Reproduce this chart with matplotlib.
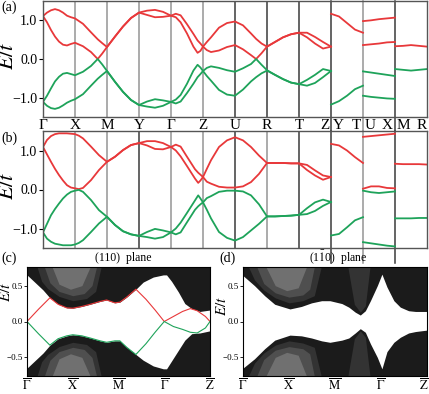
import matplotlib
matplotlib.use("Agg")
import matplotlib.pyplot as plt
from matplotlib.transforms import blended_transform_factory

plt.rcParams["font.family"] = ["Liberation Serif", "DejaVu Serif"]
plt.rcParams["mathtext.fontset"] = "stix"
plt.rcParams["axes.unicode_minus"] = True

RED = "#e8383a"
GREEN = "#1ea35a"
DARK = "#1b1b1b"

# ---------------- bulk bands, panels (a) and (b) ----------------
# path: G-X-M-Y-G-Z-U-R-T-Z | Y-T | U-X | M-R, one unit per segment
tick_pos = [0, 1, 2, 3, 4, 5, 6, 7, 8]
tick_lab = ["Γ", "X", "M", "Y", "Γ", "Z", "U", "R", "T"]
end_lab = "R"
break_pos = [9, 10, 11]
break_left = ["Z", "T", "X"]
break_right = ["Y", "U", "M"]
seg_k = [0, 0.25, 0.5, 0.75, 1]

# panel (a)
k_a = [0, 0.125, 0.25, 0.375, 0.5, 0.625, 0.75, 0.875, 1,
       1.25, 1.5, 1.71, 1.85, 2,
       2.25, 2.5, 2.75, 3,
       3.25, 3.5, 3.75, 4,
       4.15, 4.3, 4.5, 4.7, 4.83, 4.92, 5,
       5.12, 5.25, 5.5, 5.75, 6,
       6.25, 6.5, 6.66, 6.83, 7,
       7.25, 7.5, 7.75, 8,
       8.25, 8.5, 8.75, 9]
a_c2 = [1.11, 1.20, 1.26, 1.29, 1.26, 1.20, 1.12, 1.08, 1.05,
        0.91, 0.69, 0.51, 0.41, 0.31,
        0.58, 0.84, 1.06, 1.20,
        1.25, 1.27, 1.22, 1.12,
        1.17, 1.13, 0.90, 0.65, 0.48, 0.40, 0.32,
        0.44, 0.56, 0.81, 0.93, 0.97,
        0.87, 0.66, 0.52, 0.40, 0.32,
        0.44, 0.56, 0.64, 0.68,
        0.68, 0.57, 0.44, 0.32]
a_c1 = [1.11, 0.95, 0.75, 0.58, 0.45, 0.37, 0.35, 0.39, 0.42,
        0.33, 0.18, 0.00, 0.14, 0.31,
        0.58, 0.84, 1.06, 1.20,
        1.14, 1.08, 1.09, 1.12,
        1.08, 0.95, 0.66, 0.32, 0.16, 0.21, 0.32,
        0.23, 0.18, 0.22, 0.31, 0.36,
        0.25, 0.10, 0.00, 0.15, 0.32,
        0.44, 0.56, 0.64, 0.68,
        0.56, 0.40, 0.27, 0.32]
a_v1 = [-1.11, -0.95, -0.76, -0.58, -0.46, -0.38, -0.36, -0.39, -0.42,
        -0.33, -0.18, 0.00, -0.14, -0.31,
        -0.59, -0.85, -1.06, -1.19,
        -1.10, -1.04, -1.07, -1.11,
        -1.05, -0.93, -0.64, -0.30, -0.15, -0.22, -0.31,
        -0.23, -0.19, -0.23, -0.29, -0.33,
        -0.24, -0.13, 0.00, -0.15, -0.29,
        -0.41, -0.52, -0.61, -0.65,
        -0.54, -0.41, -0.26, -0.31]
a_v2 = [-1.11, -1.21, -1.27, -1.29, -1.26, -1.20, -1.13, -1.08, -1.04,
        -0.91, -0.69, -0.51, -0.41, -0.31,
        -0.59, -0.85, -1.06, -1.19,
        -1.23, -1.26, -1.21, -1.11,
        -1.15, -1.10, -0.88, -0.64, -0.47, -0.39, -0.31,
        -0.44, -0.56, -0.80, -0.92, -0.95,
        -0.79, -0.58, -0.47, -0.37, -0.30,
        -0.41, -0.52, -0.61, -0.65,
        -0.69, -0.62, -0.47, -0.31]
a_yt_c = [1.17, 1.10, 0.93, 0.76, 0.68]
a_yt_v = [-1.18, -1.09, -0.95, -0.78, -0.69]
a_ux_c2 = [0.98, 1.00, 1.03, 1.05, 1.07]
a_ux_c1 = [0.36, 0.38, 0.40, 0.43, 0.44]
a_ux_v1 = [-0.32, -0.35, -0.38, -0.41, -0.44]
a_ux_v2 = [-0.95, -0.98, -1.00, -1.02, -1.03]
a_mr_c = [0.33, 0.34, 0.36, 0.34, 0.32]
a_mr_v = [-0.26, -0.28, -0.30, -0.28, -0.26]

# panel (b)
k_b = [0, 0.125, 0.25, 0.375, 0.5, 0.625, 0.75, 0.875, 1,
       1.12, 1.25, 1.5, 1.75, 2,
       2.25, 2.5, 2.75, 3,
       3.25, 3.5, 3.75, 4,
       4.15, 4.3, 4.5, 4.75, 4.85, 4.92, 5,
       5.12, 5.25, 5.5, 5.75, 6,
       6.25, 6.5, 6.75, 7,
       7.25, 7.5, 7.75, 8,
       8.25, 8.5, 8.75, 9]
b_c2 = [1.09, 1.27, 1.37, 1.42, 1.44, 1.44, 1.44, 1.43, 1.42,
        1.38, 1.31, 1.10, 0.88, 0.71,
        0.84, 1.01, 1.14, 1.19,
        1.24, 1.24, 1.19, 1.09,
        1.15, 1.10, 0.84, 0.52, 0.43, 0.38, 0.32,
        0.53, 0.75, 1.09, 1.26, 1.34,
        1.26, 1.09, 0.87, 0.68,
        0.68, 0.68, 0.67, 0.67,
        0.63, 0.49, 0.36, 0.32]
b_c1 = [1.09, 0.90, 0.71, 0.53, 0.37, 0.23, 0.11, 0.05, 0.03,
        0.01, 0.04, 0.24, 0.50, 0.71,
        0.84, 1.01, 1.14, 1.19,
        1.13, 1.04, 1.03, 1.09,
        1.00, 0.85, 0.60, 0.28, 0.17, 0.23, 0.32,
        0.20, 0.15, 0.07, 0.05, 0.05,
        0.08, 0.19, 0.40, 0.68,
        0.68, 0.68, 0.67, 0.67,
        0.50, 0.36, 0.25, 0.32]
b_v1 = [-1.10, -0.88, -0.66, -0.50, -0.36, -0.23, -0.13, -0.06, -0.03,
        -0.01, -0.06, -0.27, -0.53, -0.70,
        -0.91, -1.07, -1.15, -1.19,
        -1.09, -1.01, -1.05, -1.10,
        -1.00, -0.85, -0.60, -0.28, -0.15, -0.23, -0.33,
        -0.22, -0.17, -0.06, -0.03, -0.03,
        -0.05, -0.15, -0.38, -0.69,
        -0.69, -0.68, -0.67, -0.65,
        -0.48, -0.33, -0.26, -0.32]
b_v2 = [-1.10, -1.26, -1.34, -1.39, -1.41, -1.43, -1.43, -1.43, -1.41,
        -1.37, -1.30, -1.09, -0.87, -0.70,
        -0.91, -1.07, -1.15, -1.19,
        -1.22, -1.26, -1.22, -1.10,
        -1.15, -1.10, -0.84, -0.52, -0.43, -0.38, -0.33,
        -0.52, -0.74, -1.09, -1.24, -1.31,
        -1.22, -1.05, -0.88, -0.69,
        -0.69, -0.68, -0.67, -0.65,
        -0.63, -0.55, -0.42, -0.32]
b_yt_c = [1.17, 1.13, 1.00, 0.83, 0.68]
b_yt_v = [-1.18, -1.14, -0.97, -0.79, -0.71]
b_ux_c2 = [1.35, 1.37, 1.39, 1.41, 1.43]
b_ux_c1 = [0.02, 0.08, 0.08, 0.04, 0.03]
b_ux_v1 = [-0.03, -0.07, -0.09, -0.07, -0.05]
b_ux_v2 = [-1.35, -1.38, -1.41, -1.44, -1.46]
b_mr_c = [0.66, 0.65, 0.65, 0.65, 0.64]
b_mr_v = [-0.74, -0.74, -0.74, -0.73, -0.73]

# vertical separator colours (a) and (b), at k = 1..11
LIGHT, DK = "#959595", "#3a3a3a"
a_vcol = [LIGHT, LIGHT, LIGHT, LIGHT, LIGHT, DK, DK, DK, DK, LIGHT, DK]
b_vcol = [LIGHT, LIGHT, DK, LIGHT, LIGHT, DK, LIGHT, DK, DK, LIGHT, DK]

# ---------------- surface spectra, panels (c) and (d) ----------------
c_ticks = [0, 1, 2, 3, 4]
d_ticks = [0, 1, 2, 3, 3.94]
surf_labels = [r"$\overline{\Gamma}$", r"$\overline{\mathrm{X}}$",
               r"$\overline{\mathrm{M}}$", r"$\overline{\Gamma}$",
               r"$\overline{\mathrm{Z}}$"]

k_c = [0, 0.2, 0.35, 0.5, 0.68, 0.87, 1.0, 1.2, 1.38, 1.6, 1.74, 1.92,
       2.03, 2.18, 2.38, 2.54, 2.76, 2.98, 3.05, 3.16, 3.31, 3.45, 3.6,
       3.78, 4.0]
c_top = [0.65, 0.53, 0.44, 0.33, 0.24, 0.19, 0.185, 0.21, 0.24, 0.28, 0.30,
         0.26, 0.27, 0.34, 0.45, 0.55, 0.62, 0.65, 0.65, 0.56, 0.41, 0.25,
         0.18, 0.14, 0.16]
c_bot = [-0.65, -0.53, -0.44, -0.33, -0.24, -0.20, -0.185, -0.20, -0.23,
         -0.27, -0.29, -0.27, -0.27, -0.36, -0.46, -0.54, -0.62, -0.66,
         -0.66, -0.55, -0.40, -0.26, -0.17, -0.16, -0.13]
k_cs = [0, 0.25, 0.5, 0.68, 0.87, 1.0, 1.2, 1.38, 1.6, 1.74, 1.92, 2.03,
        2.18, 2.38, 2.6, 2.8, 3.0, 3.2, 3.4, 3.57, 3.72, 3.9, 4.0]
c_red = [0.0, 0.17, 0.33, 0.24, 0.19, 0.185, 0.21, 0.24, 0.28, 0.30, 0.26,
         0.27, 0.34, 0.45, 0.31, 0.16, 0.0, 0.07, 0.14, 0.18, 0.15, 0.07, 0.0]
c_green = [0.0, -0.17, -0.33, -0.24, -0.20, -0.185, -0.20, -0.23, -0.27,
           -0.29, -0.27, -0.27, -0.36, -0.46, -0.31, -0.15, 0.0, -0.07,
           -0.11, -0.15, -0.16, -0.09, 0.0]

k_d = [0, 0.25, 0.47, 0.69, 1.02, 1.27, 1.49, 1.71, 1.89, 2.15, 2.30, 2.44,
       2.55, 2.66, 2.77, 2.92, 3.02, 3.13, 3.28, 3.42, 3.6, 3.75, 4.0]
d_top = [0.64, 0.50, 0.36, 0.24, 0.175, 0.21, 0.26, 0.29, 0.29, 0.25, 0.20,
         0.13, 0.09, 0.15, 0.29, 0.50, 0.66, 0.48, 0.29, 0.20, 0.15, 0.14,
         0.14]
d_bot = [-0.65, -0.52, -0.38, -0.26, -0.19, -0.20, -0.23, -0.27, -0.29,
         -0.26, -0.23, -0.16, -0.10, -0.15, -0.31, -0.50, -0.66, -0.42,
         -0.29, -0.22, -0.16, -0.14, -0.12]

# lighter grey zones inside the continuum near X-bar: (x, edge of zone)
# three nested levels, upper continuum (lower boundary) / lower (upper boundary)
c_g1_x = [0.22, 0.32, 0.45, 0.7, 1.0, 1.3, 1.5, 1.62]
c_g1_up = [0.76, 0.56, 0.46, 0.35, 0.29, 0.32, 0.42, 0.76]
c_g1_dn = [-0.76, -0.56, -0.46, -0.35, -0.29, -0.32, -0.42, -0.76]
c_g2_x = [0.38, 0.5, 0.7, 1.0, 1.25, 1.42, 1.52]
c_g2_up = [0.76, 0.54, 0.42, 0.36, 0.39, 0.5, 0.76]
c_g2_dn = [-0.76, -0.54, -0.42, -0.36, -0.39, -0.5, -0.76]
c_g3_x = [0.55, 0.7, 0.95, 1.2, 1.38]
c_g3_up = [0.76, 0.52, 0.45, 0.5, 0.76]
c_g3_dn = [-0.76, -0.52, -0.45, -0.5, -0.76]

d_g1_x = [0.12, 0.25, 0.45, 0.7, 1.0, 1.3, 1.55, 1.7]
d_g1_up = [0.76, 0.58, 0.44, 0.33, 0.26, 0.29, 0.36, 0.76]
d_g1_dn = [-0.76, -0.58, -0.44, -0.33, -0.27, -0.30, -0.36, -0.76]
d_g2_x = [0.3, 0.45, 0.7, 1.0, 1.3, 1.45, 1.55]
d_g2_up = [0.76, 0.53, 0.40, 0.34, 0.37, 0.45, 0.76]
d_g2_dn = [-0.76, -0.53, -0.40, -0.35, -0.38, -0.45, -0.76]
d_g3_x = [0.5, 0.7, 0.95, 1.2, 1.38]
d_g3_up = [0.76, 0.5, 0.43, 0.47, 0.76]
d_g3_dn = [-0.76, -0.5, -0.43, -0.47, -0.76]
d_mg_x = [2.28, 2.42, 2.55, 2.66, 2.76]
d_mg_up = [0.76, 0.24, 0.13, 0.22, 0.76]
d_mg_dn = [-0.76, -0.24, -0.13, -0.22, -0.76]

W, H = 429, 394
fig = plt.figure(figsize=(W / 100, H / 100), dpi=100)


def box(l, t, r, b):
    return [l / W, 1 - b / H, (r - l) / W, (b - t) / H]


ax_a = fig.add_axes(box(43, 1, 427, 117))
ax_b = fig.add_axes(box(43, 131, 427, 248))
ax_c = fig.add_axes(box(27, 267, 210, 376))
ax_d = fig.add_axes(box(243, 267, 427, 376))


def bulk(ax, k, c2, c1, v1, v2, yt_c, yt_v, ux, mr_c, mr_v, vcol, labels):
    lw = 1.3
    for band, col in [(c2, RED), (c1, RED), (v1, GREEN), (v2, GREEN)]:
        ax.plot(k, band, color=col, lw=lw, solid_joinstyle="round")
    ks = [9 + s for s in seg_k]
    ax.plot(ks, yt_c, color=RED, lw=lw)
    ax.plot(ks, yt_v, color=GREEN, lw=lw)
    ks = [10 + s for s in seg_k]
    for band, col in zip(ux, [RED, RED, GREEN, GREEN]):
        ax.plot(ks, band, color=col, lw=lw)
    ks = [11 + s for s in seg_k]
    ax.plot(ks, mr_c, color=RED, lw=lw)
    ax.plot(ks, mr_v, color=GREEN, lw=lw)
    for x, col in zip(range(1, 12), vcol):
        if x in break_pos:
            ax.axvline(x, ymin=-0.125, ymax=1, color=col, lw=1.1,
                       clip_on=False, zorder=0)
        else:
            ax.axvline(x, color=col, lw=1.1, zorder=0)
    ax.set_xlim(0, 12)
    ax.set_ylim(-1.5, 1.5)
    ax.set_yticks([-1, 0, 1])
    ax.set_yticklabels(["−1.0", "0.0", "1.0"], fontsize=10)
    ax.tick_params(axis="y", direction="out", length=3, width=0.8, pad=1)
    for s in ax.spines.values():
        s.set_color("#555555")
        s.set_linewidth(1.0)
    ax.set_ylabel(r"$E/t$", fontsize=16)
    ax.yaxis.set_label_coords(-0.066, 0.53)
    if labels:
        ax.set_xticks(tick_pos)
        ax.set_xticklabels(tick_lab, fontsize=11)
        ax.tick_params(axis="x", length=0, pad=1.5)
        tr = blended_transform_factory(ax.transData, ax.transAxes)
        for x, l, r in zip(break_pos, break_left, break_right):
            ax.text(x - 0.06, -0.013, l, transform=tr, ha="right", va="top",
                    fontsize=11)
            ax.text(x + 0.06, -0.013, r, transform=tr, ha="left", va="top",
                    fontsize=11)
        ax.text(12, -0.013, end_lab, transform=tr, ha="right", va="top",
                fontsize=11)
    else:
        ax.set_xticks([])


bulk(ax_a, k_a, a_c2, a_c1, a_v1, a_v2, a_yt_c, a_yt_v,
     [a_ux_c2, a_ux_c1, a_ux_v1, a_ux_v2], a_mr_c, a_mr_v, a_vcol, True)
bulk(ax_b, k_b, b_c2, b_c1, b_v1, b_v2, b_yt_c, b_yt_v,
     [b_ux_c2, b_ux_c1, b_ux_v1, b_ux_v2], b_mr_c, b_mr_v, b_vcol, False)


def surface(ax, k, top, bot, zones, ticks):
    ax.fill_between(k, top, 0.8, color=DARK, lw=0)
    ax.fill_between(k, -0.8, bot, color=DARK, lw=0)
    for (zx, zup, zdn), col in zip(zones, ["#333333", "#4f4f4f", "#707070"]):
        ax.fill_between(zx, zup, 0.8, color=col, lw=0)
        ax.fill_between(zx, -0.8, zdn, color=col, lw=0)
    ax.set_xlim(0, 4)
    ax.set_ylim(-0.76, 0.76)
    ax.set_xticks(ticks)
    ax.set_xticklabels(surf_labels, fontsize=9)
    ax.tick_params(axis="x", length=0, pad=1)
    ax.set_yticks([-0.5, 0, 0.5])
    ax.set_yticklabels(["−0.5", "0.0", "0.5"], fontsize=6.5)
    ax.tick_params(axis="y", direction="out", length=2, width=0.6, pad=1)
    for s in ax.spines.values():
        s.set_linewidth(0.8)
    ax.set_ylabel(r"$E/t$", fontsize=11)


surface(ax_c, k_c, c_top, c_bot,
        [(c_g1_x, c_g1_up, c_g1_dn), (c_g2_x, c_g2_up, c_g2_dn),
         (c_g3_x, c_g3_up, c_g3_dn)], c_ticks)
ax_c.plot(k_cs, c_red, color=RED, lw=0.8)
ax_c.plot(k_cs, c_green, color=GREEN, lw=0.8)
ax_c.yaxis.set_label_coords(-0.074, 0.77)
ax_c.text(0.525, 1.08, "(110)  plane", transform=ax_c.transAxes,
          ha="center", va="center", fontsize=8.5)

surface(ax_d, k_d, d_top, d_bot,
        [(d_g1_x, d_g1_up, d_g1_dn), (d_g2_x, d_g2_up, d_g2_dn),
         (d_g3_x, d_g3_up, d_g3_dn)], d_ticks)
ax_d.fill_between(d_mg_x, d_mg_up, 0.8, color="#333333", lw=0)
ax_d.fill_between(d_mg_x, -0.8, d_mg_dn, color="#333333", lw=0)
ax_d.yaxis.set_label_coords(-0.076, 0.64)
ax_d.text(0.516, 1.08, r"(1$\bar{1}$0)  plane", transform=ax_d.transAxes,
          ha="center", va="center", fontsize=8.5)

for lab, x, y in [("(a)", 1, 7), ("(b)", 1, 138), ("(c)", 1, 258),
                  ("(d)", 219, 258)]:
    fig.text(x / W, 1 - y / H, lab, ha="left", va="center", fontsize=10)

fig.savefig("out.png", dpi=100)
